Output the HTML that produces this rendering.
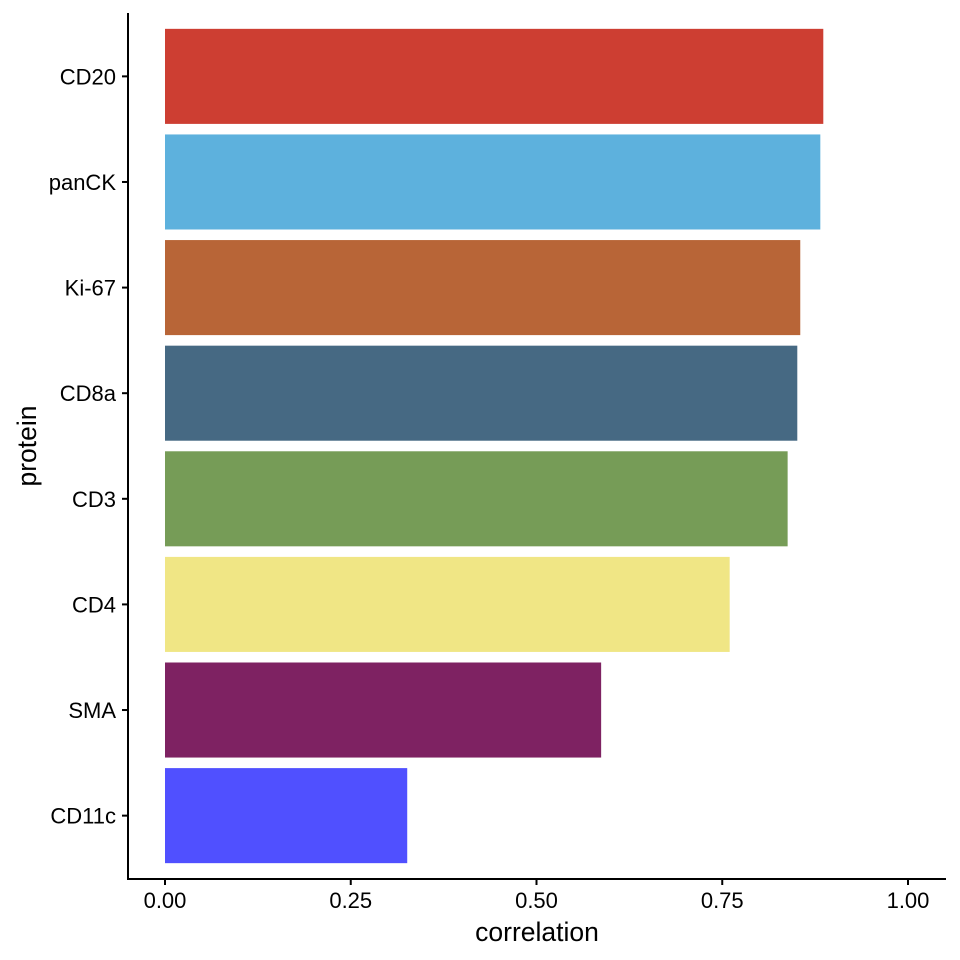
<!DOCTYPE html>
<html><head><meta charset="utf-8"><style>
html,body{margin:0;padding:0;background:#fff;}
svg{display:block;font-family:"Liberation Sans",Arial,sans-serif;}
</style></head><body>
<svg id="chart" width="960" height="960" viewBox="0 0 960 960"></svg>
<script>
const categories = ["CD20","panCK","Ki-67","CD8a","CD3","CD4","SMA","CD11c"];
const values = [0.886,0.882,0.855,0.851,0.838,0.760,0.587,0.326];
const colors = ["#CD3E32","#5DB1DD","#B86537","#466983","#769C57","#F0E685","#7E2262","#5050FF"];
const xTicks = [0,0.25,0.5,0.75,1.0];
const xTickLabels = ["0.00","0.25","0.50","0.75","1.00"];

const NS="http://www.w3.org/2000/svg";
const svg=document.getElementById('chart');
const x0=165, x1=908;
const xScale=v=>x0+(v)*(x1-x0);
const plotTop=13, plotBottom=879, plotLeft=128, plotRight=946;
const n=categories.length;
const step=(plotBottom-plotTop)/(n+0.2);
const yCenter=i=>plotTop+step*(0.6+i);
const bw=step*0.9;
function mk(tag,attrs){const e=document.createElementNS(NS,tag);for(const k in attrs)e.setAttribute(k,attrs[k]);svg.appendChild(e);return e;}

categories.forEach((c,i)=>{
  const r=mk('rect',{x:xScale(0),y:yCenter(i)-bw/2,width:xScale(values[i])-xScale(0),height:bw,fill:colors[i]});
  
  
  const t=mk('line',{x1:plotLeft-6,x2:plotLeft,y1:yCenter(i),y2:yCenter(i),stroke:'#000','stroke-width':2});
  
  
  const l=mk('text',{x:plotLeft-12,y:yCenter(i)+8,'text-anchor':'end','font-size':22,fill:'#000'});
  l.textContent=c;
  
  
});
xTicks.forEach((v,i)=>{
  const t=mk('line',{x1:xScale(v),x2:xScale(v),y1:plotBottom,y2:plotBottom+6,stroke:'#000','stroke-width':2});
  
  
  const l=mk('text',{x:xScale(v),y:908,'text-anchor':'middle','font-size':22,fill:'#000'});
  l.textContent=xTickLabels[i];
  
  
});
const ya=mk('line',{x1:plotLeft,x2:plotLeft,y1:plotTop,y2:plotBottom+1,stroke:'#000','stroke-width':2});


const xa=mk('line',{x1:plotLeft-1,x2:plotRight,y1:plotBottom,y2:plotBottom,stroke:'#000','stroke-width':2});


const xt=mk('text',{x:537,y:941,'text-anchor':'middle','font-size':26.5,fill:'#000'});
xt.textContent='correlation';


const yt=mk('text',{x:0,y:0,transform:'translate(36,446) rotate(-90)','text-anchor':'middle','font-size':26.5,fill:'#000'});
yt.textContent='protein';


</script>
</body></html>
